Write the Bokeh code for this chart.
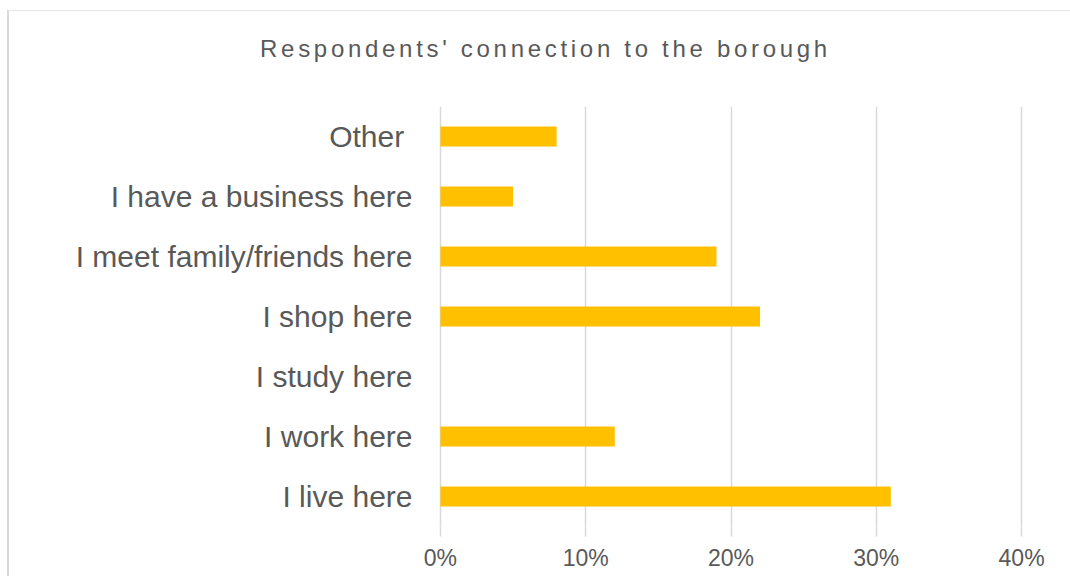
from bokeh.plotting import figure
from bokeh.models import Range1d, FactorRange, NumeralTickFormatter, FixedTicker, Div
from bokeh.layouts import column
from bokeh.embed import file_html
from bokeh.resources import INLINE

title_text = "Respondents' connection to the borough"
categories = ["I live here", "I work here", "I study here", "I shop here",
              "I meet family/friends here", "I have a business here", "Other "]
values = [0.31, 0.12, 0.0, 0.22, 0.19, 0.05, 0.08]
x_ticks = [0.0, 0.1, 0.2, 0.3, 0.4]

GREY = "#595959"
GRID = "#d9d9d9"
FONT = "Liberation Sans"
W = 1059

title = Div(text=title_text, width=W, height=85,
            styles={"font-family": FONT, "font-size": "24px", "color": GREY,
                    "letter-spacing": "3.7px", "text-align": "center",
                    "line-height": "24px", "padding-top": "21px",
                    "padding-left": "4px", "box-sizing": "border-box"})

p = figure(width=W, height=470, output_backend="svg", toolbar_location=None,
           y_range=FactorRange(factors=categories, range_padding=0),
           x_range=Range1d(-0.002, 0.402),
           min_border_left=428, min_border_right=W - 428 - 587, min_border_top=0,
           min_border_bottom=50)
p.outline_line_color = None
p.background_fill_color = "white"
p.border_fill_color = "white"

p.hbar(y=categories, right=values, left=0, height=0.333, fill_color="#FFC000", line_color=None)

p.xaxis.ticker = FixedTicker(ticks=x_ticks)
p.xaxis.formatter = NumeralTickFormatter(format="0%")
p.xaxis.axis_line_color = None
p.xaxis.major_tick_in = 0
p.xaxis.major_tick_out = 10
p.xaxis.major_tick_line_color = GRID
p.xaxis.major_tick_line_width = 1.5
p.xaxis.minor_tick_line_color = None
p.xaxis.major_label_text_font = FONT
p.xaxis.major_label_text_font_size = "23px"
p.xaxis.major_label_text_color = GREY
p.xaxis.major_label_standoff = 8

p.yaxis.axis_line_color = None
p.yaxis.major_tick_in = 0
p.yaxis.major_tick_out = 0
p.yaxis.minor_tick_line_color = None
p.yaxis.major_label_text_font = FONT
p.yaxis.major_label_text_font_size = "30px"
p.yaxis.major_label_text_color = GREY
p.yaxis.major_label_standoff = 25

p.xgrid.ticker = FixedTicker(ticks=x_ticks)
p.xgrid.grid_line_color = GRID
p.xgrid.grid_line_width = 1.5
p.ygrid.grid_line_color = None

layout = column(title, p, spacing=0,
                styles={"border-left": "2px solid #d9d9d9", "border-top": "1px solid #e6e6e6",
                        "margin-left": "7px", "margin-top": "10px"})

open("out.html", "w").write(file_html(layout, INLINE))
